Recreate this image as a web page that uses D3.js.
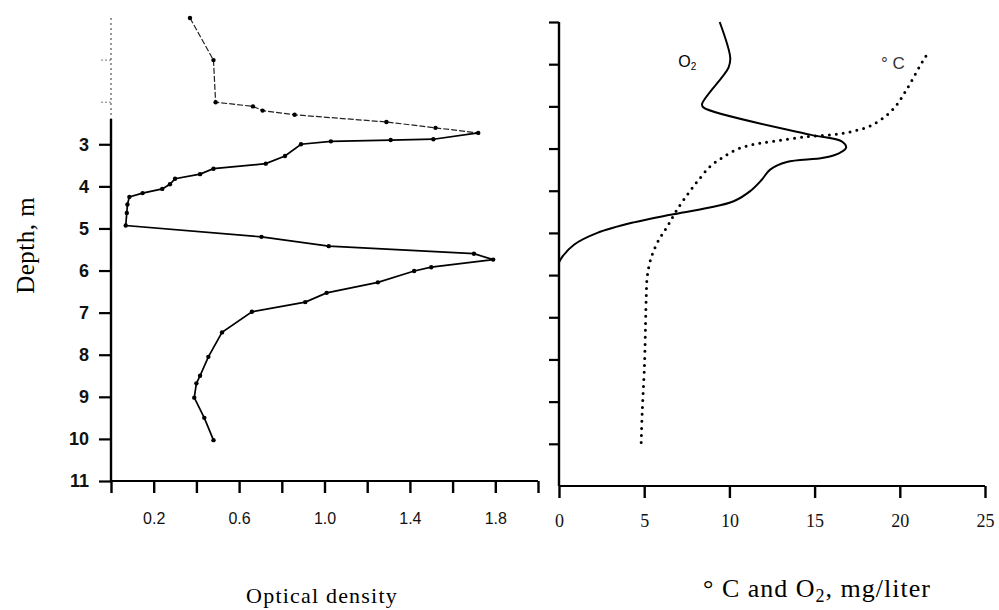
<!DOCTYPE html>
<html>
<head>
<meta charset="utf-8">
<script src="https://cdn.jsdelivr.net/npm/d3@7"></script>
<style>
  body { margin: 0; background: #fff; }
  svg { display: block; }
  .tick text { fill: #111; }
</style>
</head>
<body>
<div class="chart"></div>
<script>
// Optical density profile (left panel)
const odDepth = [0, 1, 2, 2.1, 2.2, 2.3, 2.47, 2.61, 2.73, 2.88, 2.9, 2.93, 3.0, 3.28, 3.46, 3.58, 3.71, 3.82, 3.95, 4.06, 4.16, 4.25, 4.43, 4.63, 4.93, 5.2, 5.42, 5.6, 5.74, 5.92, 6.01, 6.28, 6.53, 6.75, 6.98, 7.47, 8.05, 8.5, 8.68, 9.02, 9.5, 10.03];
const odValue = [0.37, 0.48, 0.49, 0.665, 0.71, 0.86, 1.29, 1.52, 1.72, 1.51, 1.31, 1.03, 0.89, 0.815, 0.725, 0.48, 0.417, 0.30, 0.276, 0.24, 0.148, 0.086, 0.077, 0.074, 0.069, 0.705, 1.02, 1.70, 1.79, 1.50, 1.42, 1.25, 1.01, 0.91, 0.66, 0.52, 0.456, 0.417, 0.40, 0.39, 0.437, 0.48];

// Oxygen profile (right panel, solid)
const o2Depth = [0, 0.85, 1.08, 1.95, 2.03, 2.67, 2.83, 2.98, 3.1, 3.22, 3.32, 3.5, 3.74, 4.01, 4.25, 4.41, 4.57, 4.75, 5.0, 5.28, 5.56, 5.7];
const o2Value = [9.43, 10.05, 9.95, 8.39, 8.49, 14.73, 16.59, 16.85, 16.49, 15.52, 13.37, 12.39, 11.9, 11.22, 10.25, 8.69, 6.54, 4.39, 2.25, 0.88, 0.2, 0];

// Temperature profile (right panel, dotted)
const tempDepth = [0.81, 1.05, 1.6, 2.07, 2.43, 2.59, 2.67, 2.72, 2.83, 2.9, 3.02, 3.22, 3.42, 3.74, 4.05, 4.45, 4.85, 5.24, 5.64, 6.03, 6.5, 7.14, 8.09, 9.28, 10.0];
const tempValue = [21.53, 21.17, 20.4, 19.6, 18.44, 17.27, 16.1, 14.54, 12.59, 11.42, 10.44, 9.57, 8.88, 8.2, 7.61, 6.93, 6.35, 5.76, 5.37, 5.18, 5.12, 5.08, 5.02, 4.88, 4.82];

// Tick values
const depthLabels = [3, 4, 5, 6, 7, 8, 9, 10, 11];
const depthTicksRight = [0, 1, 2, 3, 4, 5, 6, 7, 8, 9, 10];
const odTicks = [0, 0.2, 0.4, 0.6, 0.8, 1.0, 1.2, 1.4, 1.6, 1.8, 2.0];
const odTickLabels = [0.2, 0.6, 1.0, 1.4, 1.8];
const concTicks = [0, 5, 10, 15, 20, 25];

const width = 999, height = 610;

const svg = d3.select(".chart").append("svg")
    .attr("width", width)
    .attr("height", height);

// scales
const yL = d3.scaleLinear().domain([0, 11]).range([18, 481]);
const yR = d3.scaleLinear().domain([0, 11]).range([22, 486]);
const xL = d3.scaleLinear().domain([0, 2.0]).range([111, 538]);
const xR = d3.scaleLinear().domain([0, 25]).range([559, 985]);

// ---------- left panel axes ----------
const leftAxis = svg.append("g")
    .attr("transform", `translate(${xL(0)},0)`)
    .call(d3.axisLeft(yL).tickValues(depthLabels).tickSize(12).tickPadding(10));
leftAxis.select(".domain").remove();
leftAxis.selectAll(".tick line").attr("stroke", "#000").attr("stroke-width", 2.2);
leftAxis.selectAll(".tick text")
    .attr("font-family", "Liberation Sans, Arial, sans-serif")
    .attr("font-size", 18)
    .attr("font-weight", "bold");

// spine: dotted (faded) top, solid below
svg.append("line")
    .attr("x1", xL(0)).attr("x2", xL(0))
    .attr("y1", yL(0)).attr("y2", yL(2.4))
    .attr("stroke", "#555").attr("stroke-width", 1.2)
    .attr("stroke-dasharray", "2,3");
svg.append("line")
    .attr("x1", xL(0)).attr("x2", xL(0))
    .attr("y1", yL(2.4)).attr("y2", yL(11))
    .attr("stroke", "#000").attr("stroke-width", 2.4);
[1, 2].forEach(d => {
    svg.append("line")
        .attr("x1", xL(0) - 10).attr("x2", xL(0))
        .attr("y1", yL(d)).attr("y2", yL(d))
        .attr("stroke", "#777").attr("stroke-width", 1)
        .attr("stroke-dasharray", "2,2");
});

const bottomL = svg.append("g")
    .attr("transform", `translate(0,${yL(11)})`)
    .call(d3.axisBottom(xL).tickValues(odTicks).tickSize(12).tickPadding(20)
        .tickFormat(d => odTickLabels.some(v => Math.abs(v - d) < 1e-6) ? d.toFixed(1) : ""));
bottomL.select(".domain").attr("stroke", "#000").attr("stroke-width", 2.2)
    .attr("d", `M${xL(0)},0H${xL(2.0)}`);
bottomL.selectAll(".tick line").attr("stroke", "#000").attr("stroke-width", 2.4);
bottomL.selectAll(".tick text")
    .attr("font-family", "Liberation Sans, Arial, sans-serif")
    .attr("font-size", 16)
    .attr("fill", "#222");

// ---------- left panel data ----------
const odPoints = odDepth.map((d, i) => ({ depth: d, v: odValue[i] }));
const odLine = d3.line().x(d => xL(d.v)).y(d => yL(d.depth));

svg.append("path")
    .datum(odPoints.slice(0, 9))
    .attr("d", odLine)
    .attr("fill", "none")
    .attr("stroke", "#222")
    .attr("stroke-width", 1.2)
    .attr("stroke-dasharray", "6,2");
svg.append("path")
    .datum(odPoints.slice(8))
    .attr("d", odLine)
    .attr("fill", "none")
    .attr("stroke", "#000")
    .attr("stroke-width", 1.7);
svg.selectAll(".odpt")
    .data(odPoints)
    .enter().append("circle")
    .attr("class", "odpt")
    .attr("cx", d => xL(d.v))
    .attr("cy", d => yL(d.depth))
    .attr("r", 2.2)
    .attr("fill", "#000");

// ---------- right panel axes ----------
const rightAxis = svg.append("g")
    .attr("transform", `translate(${xR(0)},0)`)
    .call(d3.axisLeft(yR).tickValues(depthTicksRight).tickSize(10).tickFormat(""));
rightAxis.select(".domain").attr("stroke", "#000").attr("stroke-width", 2.4)
    .attr("d", `M0,${yR(0)}V${yR(11)}`);
rightAxis.selectAll(".tick line").attr("stroke", "#000").attr("stroke-width", 2.2);

const bottomR = svg.append("g")
    .attr("transform", `translate(0,${yR(11)})`)
    .call(d3.axisBottom(xR).tickValues(concTicks).tickSize(12).tickPadding(16));
bottomR.select(".domain").attr("stroke", "#000").attr("stroke-width", 2.2)
    .attr("d", `M${xR(0)},0H${xR(25)}`);
bottomR.selectAll(".tick line").attr("stroke", "#000").attr("stroke-width", 2.4);
bottomR.selectAll(".tick text")
    .attr("font-family", "Liberation Serif, Times New Roman, serif")
    .attr("font-size", 18)
    .attr("fill", "#222");

// ---------- right panel data ----------
const o2Points = o2Depth.map((d, i) => ({ depth: d, v: o2Value[i] }));
const tempPoints = tempDepth.map((d, i) => ({ depth: d, v: tempValue[i] }));

const lineR = d3.line()
    .x(d => xR(d.v))
    .y(d => yR(d.depth))
    .curve(d3.curveCatmullRom.alpha(0.5));

svg.append("path")
    .datum(tempPoints)
    .attr("d", lineR)
    .attr("fill", "none")
    .attr("stroke", "#000")
    .attr("stroke-width", 3)
    .attr("stroke-linecap", "round")
    .attr("stroke-dasharray", "0,7");

svg.append("path")
    .datum(o2Points)
    .attr("d", lineR)
    .attr("fill", "none")
    .attr("stroke", "#000")
    .attr("stroke-width", 2);

// series labels
const o2Label = svg.append("text")
    .attr("x", xR(7.0)).attr("y", yR(1.07))
    .attr("font-family", "Liberation Sans, Arial, sans-serif")
    .attr("font-size", 16);
o2Label.append("tspan").text("O");
o2Label.append("tspan").attr("font-size", 10).attr("dy", 3).text("2");

svg.append("text")
    .attr("x", xR(18.9)).attr("y", yR(1.12))
    .attr("font-family", "Liberation Sans, Arial, sans-serif")
    .attr("font-size", 17)
    .attr("fill", "#333")
    .text("° C");

// ---------- axis titles ----------
svg.append("text")
    .attr("transform", `translate(34,${yL(5.4)}) rotate(-90)`)
    .attr("text-anchor", "middle")
    .attr("font-family", "Liberation Serif, Times New Roman, serif")
    .attr("font-size", 25)
    .attr("letter-spacing", 0.5)
    .text("Depth, m");

svg.append("text")
    .attr("x", 322).attr("y", 603)
    .attr("text-anchor", "middle")
    .attr("font-family", "Liberation Serif, Times New Roman, serif")
    .attr("font-size", 22)
    .attr("letter-spacing", 1.2)
    .text("Optical density");

const concTitle = svg.append("text")
    .attr("x", 817).attr("y", 597)
    .attr("text-anchor", "middle")
    .attr("font-family", "Liberation Serif, Times New Roman, serif")
    .attr("font-size", 26)
    .attr("letter-spacing", 1);
concTitle.append("tspan").text("° C and O");
concTitle.append("tspan").attr("font-size", 18).attr("dy", 5).text("2");
concTitle.append("tspan").attr("dy", -5).text(", mg/liter");
</script>
</body>
</html>
